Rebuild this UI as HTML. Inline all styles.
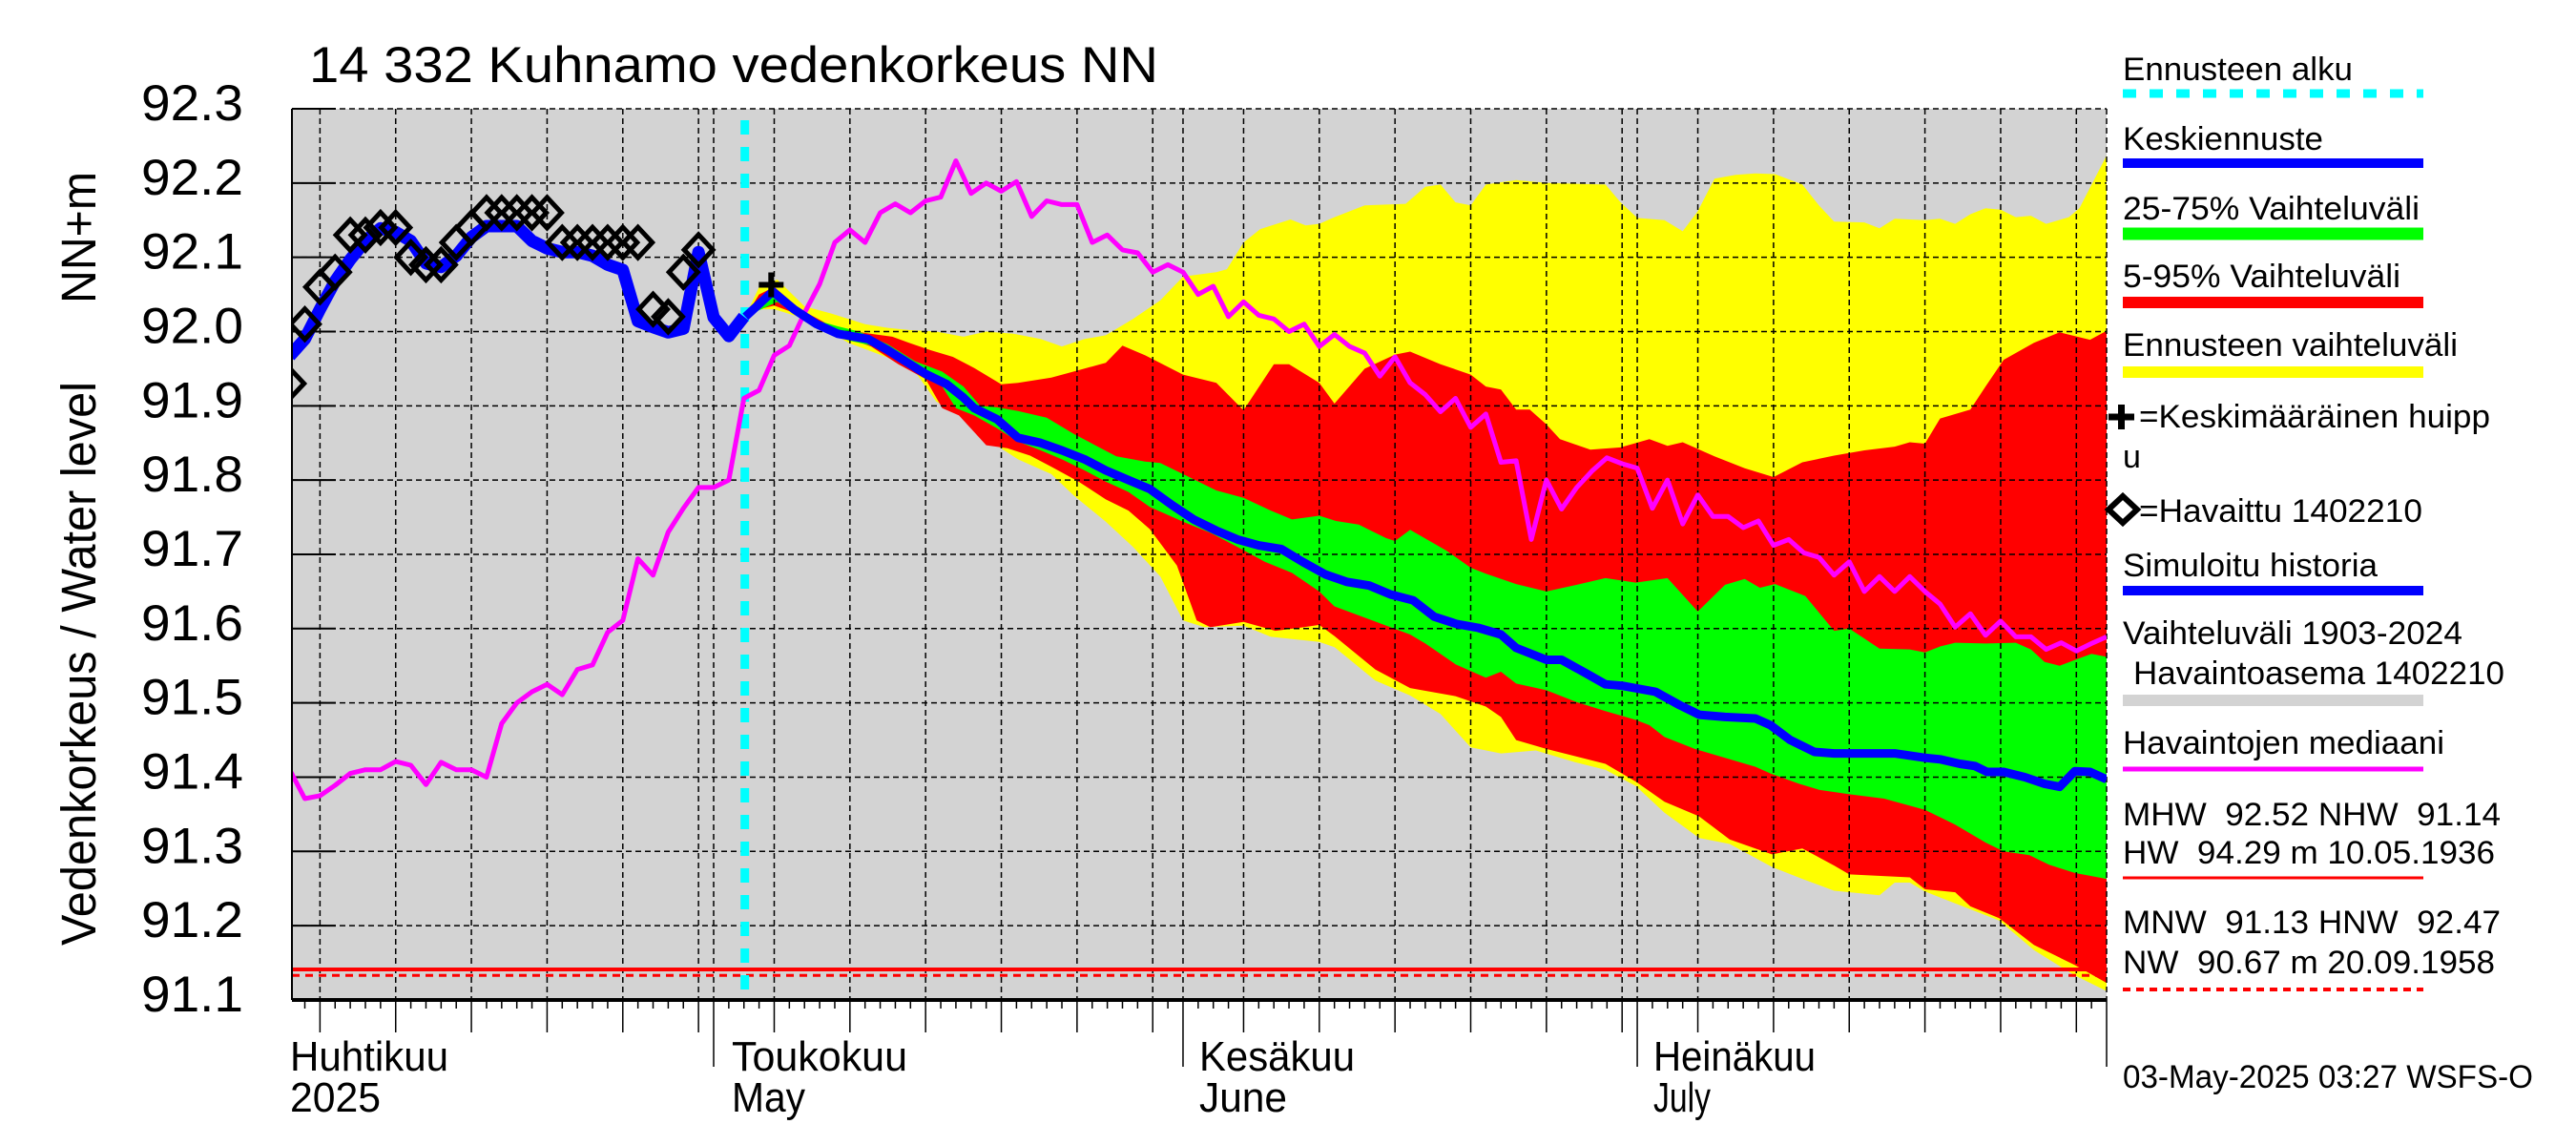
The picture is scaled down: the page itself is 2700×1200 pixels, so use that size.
<!DOCTYPE html>
<html>
<head>
<meta charset="utf-8">
<style>
html,body{margin:0;padding:0;background:#fff;}
svg{display:block;}
text{font-family:"Liberation Sans",Arial,sans-serif;fill:#000;}
</style>
</head>
<body>
<svg id="chart" xmlns="http://www.w3.org/2000/svg" width="2700" height="1200" viewBox="0 0 2700 1200">
  <defs>
    <clipPath id="plotclip"><rect x="306" y="114" width="1902" height="934"/></clipPath>
  </defs>
  <rect x="0" y="0" width="2700" height="1200" fill="#ffffff"/>
  <rect x="306" y="114" width="1902" height="934" fill="#d3d3d3"/>
  <g id="bands" clip-path="url(#plotclip)"></g>
  <g id="grid"></g>
  <g id="series" clip-path="url(#plotclip)"></g>
  <g id="axes"></g>

  <text x="324" y="86" font-size="53" textLength="890" lengthAdjust="spacingAndGlyphs">14 332 Kuhnamo vedenkorkeus NN</text>
  <text transform="translate(100,991) rotate(-90)" x="0" y="0" font-size="51" textLength="591" lengthAdjust="spacingAndGlyphs">Vedenkorkeus / Water level</text>
  <text transform="translate(100,318) rotate(-90)" x="0" y="0" font-size="51" textLength="138" lengthAdjust="spacingAndGlyphs">NN+m</text>

  <g>
    <text x="2225" y="84" font-size="34" textLength="241" lengthAdjust="spacingAndGlyphs">Ennusteen alku</text>
    <line x1="2225" y1="98" x2="2540" y2="98" stroke="#00ffff" stroke-width="9" stroke-dasharray="14,14"/>
    <text x="2225" y="157" font-size="34" textLength="210" lengthAdjust="spacingAndGlyphs">Keskiennuste</text>
    <line x1="2225" y1="171" x2="2540" y2="171" stroke="#0000ff" stroke-width="10"/>
    <text x="2225" y="230" font-size="34" textLength="311" lengthAdjust="spacingAndGlyphs">25-75% Vaihteluväli</text>
    <line x1="2225" y1="245" x2="2540" y2="245" stroke="#00ff00" stroke-width="13"/>
    <text x="2225" y="301" font-size="34" textLength="291" lengthAdjust="spacingAndGlyphs">5-95% Vaihteluväli</text>
    <line x1="2225" y1="317" x2="2540" y2="317" stroke="#ff0000" stroke-width="12"/>
    <text x="2225" y="373" font-size="34" textLength="351" lengthAdjust="spacingAndGlyphs">Ennusteen vaihteluväli</text>
    <line x1="2225" y1="390" x2="2540" y2="390" stroke="#ffff00" stroke-width="12"/>
    <g>
      <line x1="2210" y1="437" x2="2237" y2="437" stroke="#000" stroke-width="7"/>
      <line x1="2223.5" y1="424" x2="2223.5" y2="450" stroke="#000" stroke-width="7"/>
    </g>
    <text x="2242" y="448" font-size="34" textLength="368" lengthAdjust="spacingAndGlyphs">=Keskimääräinen huipp</text>
    <text x="2225" y="490" font-size="34">u</text>
    <polygon points="2210,534 2225,520 2240,534 2225,548" fill="none" stroke="#000" stroke-width="6"/>
    <text x="2242" y="547" font-size="34" textLength="297" lengthAdjust="spacingAndGlyphs">=Havaittu 1402210</text>
    <text x="2225" y="604" font-size="34" textLength="267" lengthAdjust="spacingAndGlyphs">Simuloitu historia</text>
    <line x1="2225" y1="619" x2="2540" y2="619" stroke="#0000ff" stroke-width="10"/>
    <text x="2225" y="675" font-size="34" textLength="356" lengthAdjust="spacingAndGlyphs">Vaihteluväli 1903-2024</text>
    <text x="2236" y="717" font-size="34" textLength="389" lengthAdjust="spacingAndGlyphs">Havaintoasema 1402210</text>
    <line x1="2225" y1="734" x2="2540" y2="734" stroke="#d3d3d3" stroke-width="12"/>
    <text x="2225" y="790" font-size="34" textLength="337" lengthAdjust="spacingAndGlyphs">Havaintojen mediaani</text>
    <line x1="2225" y1="806" x2="2540" y2="806" stroke="#ff00ff" stroke-width="5"/>
    <text x="2225" y="865" font-size="34" textLength="396" lengthAdjust="spacingAndGlyphs" xml:space="preserve">MHW  92.52 NHW  91.14</text>
    <text x="2225" y="905" font-size="34" textLength="390" lengthAdjust="spacingAndGlyphs" xml:space="preserve">HW  94.29 m 10.05.1936</text>
    <line x1="2225" y1="920" x2="2540" y2="920" stroke="#ff0000" stroke-width="3"/>
    <text x="2225" y="978" font-size="34" textLength="396" lengthAdjust="spacingAndGlyphs" xml:space="preserve">MNW  91.13 HNW  92.47</text>
    <text x="2225" y="1020" font-size="34" textLength="390" lengthAdjust="spacingAndGlyphs" xml:space="preserve">NW  90.67 m 20.09.1958</text>
    <line x1="2225" y1="1037" x2="2540" y2="1037" stroke="#ff0000" stroke-width="4" stroke-dasharray="8,6"/>
    <text x="2225" y="1140" font-size="34" textLength="430" lengthAdjust="spacingAndGlyphs">03-May-2025 03:27 WSFS-O</text>
  </g>
</svg>
<script>
// ---- data (t = days since 1 April 2025) ----
const yTicks = [91.1, 91.2, 91.3, 91.4, 91.5, 91.6, 91.7, 91.8, 91.9, 92.0, 92.1, 92.2, 92.3];
const yTickLabels = ["91.1","91.2","91.3","91.4","91.5","91.6","91.7","91.8","91.9","92.0","92.1","92.2","92.3"];
const gridDays = [4,9,14,19,24,29,30,34,39,44,49,54,59,61,65,70,75,80,85,90,91,95,100,105,110,115,120];
const monthDays = [30,61,91];
const monthNamesFi = ["Huhtikuu","Toukokuu","Kesäkuu","Heinäkuu"];
const monthNamesEn = ["2025","May","June","July"];
const forecastStartDay = 32.06;
const nhwLevel = 91.141;
const mnwLevel = 91.133;
const peakDay = 33.8;
const peakLevel = 92.063;

const obsStartDay = 2;
const obsValues = [91.93,92.01,92.06,92.08,92.13,92.13,92.14,92.14,92.10,92.09,92.09,92.12,92.14,92.16,92.16,92.16,92.16,92.16,92.12,92.12,92.12,92.12,92.12,92.12,92.03,92.02,92.08,92.11];

const simStartDay = 2;
const simValues = [91.967,91.99,92.03,92.068,92.097,92.122,92.139,92.134,92.122,92.092,92.087,92.102,92.127,92.142,92.142,92.142,92.122,92.112,92.107,92.107,92.102,92.09,92.083,92.014,92.006,91.999,92.004,92.107,92.019,91.994,92.02];

const medObsStartDay = 2;
const medObsValues = [91.41,91.371,91.375,91.389,91.405,91.41,91.41,91.421,91.416,91.39,91.42,91.41,91.41,91.40,91.472,91.50,91.515,91.525,91.511,91.545,91.551,91.595,91.611,91.694,91.672,91.73,91.762,91.79,91.79,91.80,91.91,91.921,91.968,91.981,92.025,92.064,92.12,92.137,92.12,92.16,92.172,92.16,92.176,92.181,92.23,92.186,92.20,92.189,92.202,92.155,92.176,92.171,92.171,92.12,92.13,92.11,92.106,92.08,92.09,92.08,92.05,92.061,92.02,92.04,92.022,92.017,92.0,92.01,91.98,91.996,91.98,91.971,91.94,91.966,91.931,91.915,91.892,91.91,91.871,91.889,91.824,91.826,91.72,91.80,91.761,91.79,91.812,91.83,91.822,91.816,91.762,91.80,91.741,91.78,91.751,91.751,91.736,91.745,91.712,91.72,91.702,91.696,91.672,91.69,91.65,91.67,91.65,91.67,91.65,91.633,91.602,91.62,91.591,91.61,91.589,91.589,91.572,91.581,91.57,91.58,91.589];

const yellowUpperDays = [32.1,33,34.2,36,37.8,40,41.5,42.9,44.7,46.5,48,49.8,51.6,53,54.5,55.9,57.7,59.5,61,63.2,63.9,65,66.1,68.1,69.1,70,71,73,75.7,77,78,79,80,81,83,85,88.9,89.9,91,92.8,94,95,96.1,97.5,98.8,100.1,101.9,103,104,106,107,108,110,111,112,113,114,115,116,117,118,119.5,120.2,122];
const yellowUpperValues = [92.02,92.06,92.07,92.034,92.024,92.01,92.005,92.002,92.0,91.993,92.0,91.997,91.99,91.98,91.99,91.995,92.017,92.042,92.074,92.08,92.084,92.12,92.138,92.151,92.143,92.145,92.154,92.17,92.172,92.195,92.198,92.174,92.17,92.198,92.204,92.2,92.198,92.174,92.153,92.15,92.135,92.162,92.206,92.211,92.213,92.212,92.198,92.17,92.148,92.147,92.139,92.152,92.15,92.152,92.145,92.158,92.166,92.164,92.154,92.156,92.145,92.154,92.166,92.237];
const yellowLowerDays = [32.1,33,34,36.4,38.9,41.5,43.3,44.7,45.8,47.2,48.3,50.1,52.3,53.8,55.9,57.7,59.5,61,62.4,65,66.8,70,71,73.7,76,78,80,82,84.3,86.9,88.9,90.9,92.8,95.1,97.1,99.9,101.9,104,107,108,109,110,112,114.9,117.2,119.9,122];
const yellowLowerValues = [92.02,92.03,92.03,92.015,91.985,91.965,91.946,91.906,91.892,91.877,91.852,91.828,91.808,91.779,91.744,91.71,91.67,91.611,91.602,91.604,91.589,91.582,91.575,91.53,91.51,91.485,91.44,91.432,91.436,91.42,91.41,91.388,91.352,91.318,91.31,91.279,91.263,91.247,91.241,91.258,91.258,91.246,91.23,91.207,91.167,91.133,91.112];

const redUpperDays = [32.1,33,34,35.7,37.8,40,41.8,42.9,44.3,45.8,47.2,49,50.1,52.3,54.1,55.9,57,58.5,61,63.2,65,67,68,70,71,73,75,76,78,80,81,82,83,83.9,85,85.9,87.9,89.9,91.8,93,94,96.1,98.1,100,101.9,104,106,108,109,110,111,113,114,115.2,117.2,118.9,120.9,122];
const redUpperValues = [92.02,92.05,92.06,92.03,92.007,91.998,91.993,91.985,91.975,91.966,91.951,91.929,91.931,91.938,91.948,91.958,91.981,91.968,91.942,91.931,91.894,91.956,91.956,91.931,91.903,91.95,91.969,91.973,91.956,91.942,91.926,91.922,91.895,91.895,91.875,91.855,91.841,91.844,91.855,91.846,91.851,91.832,91.816,91.804,91.824,91.833,91.84,91.845,91.851,91.849,91.883,91.895,91.926,91.962,91.985,91.999,91.989,92.001];
const redLowerDays = [32.1,33,34,36.4,38.6,40.4,42.2,44,45.1,46.2,48,49.4,50.9,52.3,54.1,55.9,57.4,58.8,60.6,61.9,62.8,65,67.1,69,70,71,73.7,76,79,81,82,83,85,88.9,90.9,92.8,95.1,97.1,99.9,101.9,104,105,109,110,112,113,114.9,117.2,119.9,122];
const redLowerValues = [92.02,92.03,92.035,92.017,91.993,91.98,91.956,91.936,91.897,91.887,91.847,91.843,91.833,91.818,91.798,91.774,91.759,91.734,91.685,91.611,91.602,91.609,91.597,91.602,91.605,91.59,91.545,91.52,91.509,91.495,91.481,91.45,91.438,91.418,91.394,91.367,91.347,91.316,91.296,91.304,91.281,91.269,91.265,91.249,91.245,91.226,91.21,91.174,91.147,91.123];

const greenUpperDays = [32.1,33.9,36.8,38.2,39.6,41.5,43.3,45.1,46.5,47.6,48.7,50.1,52,53.8,55.2,56.6,58.5,59.5,61,63.2,65,66.8,68.2,70,71.1,72.6,74.4,75,76,78.4,80,81,83,85,87,88.9,90.9,93,95,96.8,98.1,99.1,100.1,102.1,104,105,107,109,110,111,112,114,116,117,117.9,118.9,120.2,121,122];
const greenUpperValues = [92.02,92.05,92.015,92.007,92.0,91.983,91.96,91.946,91.926,91.90,91.898,91.893,91.884,91.862,91.847,91.832,91.825,91.823,91.808,91.786,91.776,91.759,91.747,91.752,91.745,91.74,91.722,91.718,91.733,91.705,91.682,91.674,91.66,91.65,91.659,91.668,91.662,91.668,91.623,91.659,91.667,91.655,91.66,91.644,91.597,91.60,91.573,91.572,91.568,91.576,91.581,91.58,91.581,91.572,91.555,91.55,91.56,91.566,91.562];
const greenLowerDays = [32.1,34.2,36.8,38.9,40.7,42.5,44.3,45.1,46,47.2,48.7,50.1,51.6,53,54.5,55.9,57.4,58.8,61,62.8,64.6,66.4,68.2,70,71,76,77,79,81,82,83,85,87,88.9,90.9,91.8,92.8,94.8,96.8,98.8,99.8,101.7,103,105,107.3,110,112,114,115.2,116.9,118.2,119.9,122];
const greenLowerValues = [92.02,92.04,92.005,91.988,91.98,91.96,91.94,91.926,91.897,91.887,91.87,91.852,91.84,91.828,91.813,91.798,91.784,91.764,91.744,91.729,91.71,91.69,91.675,91.65,91.63,91.592,91.58,91.552,91.534,91.542,91.526,91.517,91.501,91.489,91.477,91.47,91.454,91.438,91.426,91.414,91.405,91.391,91.383,91.377,91.371,91.356,91.336,91.312,91.30,91.295,91.282,91.271,91.263];

const medianDays = [32.1,33.9,35.3,36.8,38.2,39.3,40.2,41.5,42.9,44,45.4,46.5,47.2,48.7,50.1,51.6,53,54.5,55.9,57.4,58.8,60.3,61.7,63.2,64.6,66,67.5,68.9,70.4,71.8,73.3,74.7,76.2,77.6,79.1,80.5,82,83,85,86,87.6,88.9,90,92.2,93.8,95.1,96.8,98.8,99.8,101.1,102.7,104,106,108,110,111,112.3,113.3,114.1,115.2,116.6,117.9,118.9,119.9,120.9,122];
const medianValues = [92.02,92.054,92.03,92.01,91.997,91.993,91.99,91.975,91.957,91.943,91.929,91.911,91.897,91.882,91.857,91.85,91.84,91.828,91.813,91.80,91.788,91.766,91.747,91.732,91.72,91.712,91.707,91.69,91.673,91.663,91.658,91.646,91.638,91.616,91.606,91.601,91.592,91.574,91.558,91.558,91.54,91.525,91.523,91.515,91.497,91.484,91.481,91.479,91.47,91.45,91.434,91.432,91.432,91.432,91.426,91.424,91.418,91.415,91.407,91.407,91.40,91.391,91.387,91.408,91.407,91.397];

// ---- scales ----
const PL = 306, PR = 2208, PT = 114, PB = 1048;
function xScale(t){ return 271.9 + t * 15.87; }
function yScale(v){ return 114 + (92.3 - v) * 778.3; }
const NS = "http://www.w3.org/2000/svg";
function mk(tag, attrs, parent){
  const e = document.createElementNS(NS, tag);
  for (const k in attrs) e.setAttribute(k, attrs[k]);
  parent.appendChild(e);
  return e;
}
function pts(days, vals){ return days.map((d,i)=> xScale(d).toFixed(1)+","+yScale(vals[i]).toFixed(1)); }
function band(ud, uv, ld, lv){ return pts(ud,uv).concat(pts(ld,lv).reverse()).join(" "); }
function seq(start, vals){ return vals.map((v,i)=> start + i); }

const bands = document.getElementById("bands");
const grid = document.getElementById("grid");
const series = document.getElementById("series");
const axes = document.getElementById("axes");

let el;
el = mk("polygon", {points: band(yellowUpperDays, yellowUpperValues, yellowLowerDays, yellowLowerValues), fill:"#ffff00"}, bands);


el = mk("polygon", {points: band(redUpperDays, redUpperValues, redLowerDays, redLowerValues), fill:"#ff0000"}, bands);


el = mk("polygon", {points: band(greenUpperDays, greenUpperValues, greenLowerDays, greenLowerValues), fill:"#00ff00"}, bands);



yTicks.forEach((v)=>{
  const y = yScale(v);
  if (v > 91.15) {
    el = mk("line", {x1:PL, y1:y, x2:PR, y2:y, stroke:"#000", "stroke-width":1.5, "stroke-dasharray":"6,4"}, grid);
    
    
  }
  el = mk("line", {x1:PL, y1:y, x2:PL+46, y2:y, stroke:"#000", "stroke-width":2}, grid);
  
  
});
gridDays.forEach((d)=>{
  const x = xScale(d);
  el = mk("line", {x1:x, y1:PT, x2:x, y2:PB, stroke:"#000", "stroke-width":1.5, "stroke-dasharray":"6,4"}, grid);
  
  
});
el = mk("line", {x1:PR, y1:PT, x2:PR, y2:PB, stroke:"#000", "stroke-width":1.5, "stroke-dasharray":"6,4"}, grid);



el = mk("line", {x1:PL, y1:yScale(nhwLevel), x2:PR, y2:yScale(nhwLevel), stroke:"#ff0000", "stroke-width":4}, series);


el = mk("line", {x1:PL, y1:yScale(mnwLevel), x2:PR, y2:yScale(mnwLevel), stroke:"#ff0000", "stroke-width":3, "stroke-dasharray":"8,6"}, series);



el = mk("line", {x1:xScale(forecastStartDay), y1:PT+12, x2:xScale(forecastStartDay), y2:PB, stroke:"#00ffff", "stroke-width":9, "stroke-dasharray":"15,13"}, series);



el = mk("polyline", {points: pts(seq(medObsStartDay, medObsValues), medObsValues).join(" "), fill:"none", stroke:"#ff00ff", "stroke-width":5, "stroke-linejoin":"round"}, series);



el = mk("polyline", {points: pts(seq(simStartDay, simValues), simValues).join(" "), fill:"none", stroke:"#0000ff", "stroke-width":13, "stroke-linejoin":"round"}, series);



el = mk("polyline", {points: pts(medianDays, medianValues).join(" "), fill:"none", stroke:"#0000ff", "stroke-width":9, "stroke-linejoin":"round"}, series);



obsValues.forEach((v,i)=>{
  const x = xScale(obsStartDay + i), y = yScale(v);
  el = mk("polygon", {points: [x-15,y, x,y-16, x+15,y, x,y+16].join(","), fill:"none", stroke:"#000", "stroke-width":5}, series);
  
  
});

{
  const px = xScale(peakDay), py = yScale(peakLevel);
  el = mk("path", {d:`M${px-13},${py} H${px+13} M${px},${py-13} V${py+13}`, stroke:"#000", "stroke-width":6, fill:"none"}, series);
  
  
}

el = mk("line", {x1:PL, y1:PT, x2:PL, y2:PB, stroke:"#000", "stroke-width":2}, axes);


el = mk("line", {x1:PL, y1:PB, x2:PR, y2:PB, stroke:"#000", "stroke-width":4}, axes);


for (let d = 3; d <= 121; d++) {
  let len = 9;
  if (gridDays.indexOf(d) >= 0) len = 34;
  if (monthDays.indexOf(d) >= 0) len = 70;
  const x = xScale(d);
  el = mk("line", {x1:x, y1:PB, x2:x, y2:PB+len, stroke:"#000", "stroke-width":1.5}, axes);
  
  
}
el = mk("line", {x1:PR, y1:PB, x2:PR, y2:PB+70, stroke:"#000", "stroke-width":1.5}, axes);



yTicks.forEach((v,i)=>{
  el = mk("text", {x:255, y:yScale(v)+12, "font-size":53, "text-anchor":"end", textLength:107, lengthAdjust:"spacingAndGlyphs"}, axes);
  el.textContent = yTickLabels[i];
  
  
});

const monthLabelX = [304, 767, 1257, 1733];
const monthFiW = [166, 184, 163, 170];
const monthEnW = [95, 77, 92, 60];
monthNamesFi.forEach((m,i)=>{
  el = mk("text", {x:monthLabelX[i], y:1122, "font-size":44, textLength:monthFiW[i], lengthAdjust:"spacingAndGlyphs"}, axes);
  el.textContent = m;
  
  
  el = mk("text", {x:monthLabelX[i], y:1165, "font-size":44, textLength:monthEnW[i], lengthAdjust:"spacingAndGlyphs"}, axes);
  el.textContent = monthNamesEn[i];
  
  
});
</script>
</body>
</html>
